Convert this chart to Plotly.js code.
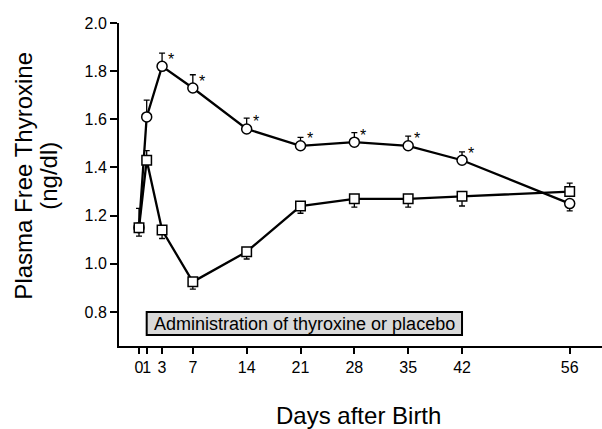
<!DOCTYPE html>
<html>
<head>
<meta charset="utf-8">
<script src="https://cdn.plot.ly/plotly-3.0.1.min.js"></script>
<style>html,body{margin:0;padding:0;background:#fff;}#chart{width:602px;height:429px;}</style>
</head>
<body>
<div id="chart"></div>
<script>
// Data
var days = [0, 1, 3, 7, 14, 21, 28, 35, 42, 56];
var thyroxine = [1.15, 1.61, 1.82, 1.73, 1.56, 1.49, 1.505, 1.49, 1.43, 1.25];
var thyroxineErrPlus = [0.08, 0.07, 0.055, 0.055, 0.045, 0.035, 0.04, 0.04, 0.035, 0];
var thyroxineErrMinus = [0, 0, 0, 0, 0, 0, 0, 0, 0, 0.03];
var placebo = [1.15, 1.43, 1.14, 0.925, 1.05, 1.24, 1.27, 1.27, 1.28, 1.30];
var placeboErrPlus = [0, 0.04, 0, 0, 0, 0, 0, 0, 0, 0.035];
var placeboErrMinus = [0.035, 0, 0.035, 0.03, 0.03, 0.03, 0.035, 0.035, 0.04, 0];
var significantDays = [3, 7, 14, 21, 28, 35, 42];
var xTickVals = [0, 1, 3, 7, 14, 21, 28, 35, 42, 56];
var yTickVals = [0.8, 1.0, 1.2, 1.4, 1.6, 1.8, 2.0];
var yTickText = ["0.8", "1.0", "1.2", "1.4", "1.6", "1.8", "2.0"];
var boxLabel = "Administration of thyroxine or placebo";
var adminStart = 1, adminEnd = 42;

var FONT = "Liberation Sans, Arial, Helvetica, sans-serif";

var traceThy = {
  x: days, y: thyroxine, mode: "lines+markers", type: "scatter",
  line: {color: "#000", width: 2.3},
  marker: {symbol: "circle", size: 10, color: "#fff", line: {color: "#000", width: 1.5}},
  error_y: {type: "data", symmetric: false, array: thyroxineErrPlus, arrayminus: thyroxineErrMinus,
            color: "#000", thickness: 1.3, width: 3},
  showlegend: false, hoverinfo: "none"
};
var tracePla = {
  x: days, y: placebo, mode: "lines+markers", type: "scatter",
  line: {color: "#000", width: 2.3},
  marker: {symbol: "square", size: 9.5, color: "#fff", line: {color: "#000", width: 1.5}},
  error_y: {type: "data", symmetric: false, array: placeboErrPlus, arrayminus: placeboErrMinus,
            color: "#000", thickness: 1.3, width: 3},
  showlegend: false, hoverinfo: "none"
};

var annotations = [];
significantDays.forEach(function(d){
  var i = days.indexOf(d);
  annotations.push({
    x: d, y: thyroxine[i], xref: "x", yref: "y",
    text: "*", showarrow: false, xshift: 9, yshift: 7,
    font: {family: FONT, size: 16, color: "#000"}
  });
});
annotations.push({
  x: (adminStart + adminEnd) / 2, y: 0.752, xref: "x", yref: "y",
  text: boxLabel, showarrow: false, xanchor: "center", yanchor: "middle",
  font: {family: FONT, size: 18, color: "#000"}
});
annotations.push({
  x: 0.495, y: -0.214, xref: "paper", yref: "paper",
  text: "Days after Birth", showarrow: false, xanchor: "center", yanchor: "middle",
  font: {family: FONT, size: 24, color: "#000"}
});
annotations.push({
  x: -0.197, y: 0.527, xref: "paper", yref: "paper",
  text: "Plasma Free Thyroxine", showarrow: false, textangle: -90,
  xanchor: "center", yanchor: "middle",
  font: {family: FONT, size: 24, color: "#000"}
});
annotations.push({
  x: -0.145, y: 0.527, xref: "paper", yref: "paper",
  text: "(ng/dl)", showarrow: false, textangle: -90,
  xanchor: "center", yanchor: "middle",
  font: {family: FONT, size: 24, color: "#000"}
});

var layout = {
  width: 602, height: 429,
  margin: {l: 119, r: 0, t: 23, b: 83, pad: 0},
  paper_bgcolor: "#fff", plot_bgcolor: "#fff",
  font: {family: FONT, color: "#000"},
  xaxis: {
    range: [-2.6, 60.2], tickvals: xTickVals, ticktext: xTickVals.map(String), tickangle: 0,
    showgrid: false, zeroline: false, showline: true, linecolor: "#000", linewidth: 2,
    ticks: "outside", ticklen: 6, tickwidth: 2, tickcolor: "#000",
    tickfont: {family: FONT, size: 16, color: "#000"}, fixedrange: true
  },
  yaxis: {
    range: [0.6586, 2.0], tickvals: yTickVals, ticktext: yTickText,
    showgrid: false, zeroline: false, showline: true, linecolor: "#000", linewidth: 2,
    ticks: "outside", ticklen: 7, tickwidth: 2, tickcolor: "#000",
    tickfont: {family: FONT, size: 16, color: "#000"}, fixedrange: true
  },
  shapes: [{
    type: "rect", xref: "x", yref: "y", x0: adminStart, x1: adminEnd, y0: 0.704, y1: 0.8,
    fillcolor: "#d9d9d9", line: {color: "#000", width: 2}, layer: "below"
  }],
  annotations: annotations
};

Plotly.newPlot("chart", [traceThy, tracePla], layout, {staticPlot: true, displayModeBar: false});
</script>
</body>
</html>
